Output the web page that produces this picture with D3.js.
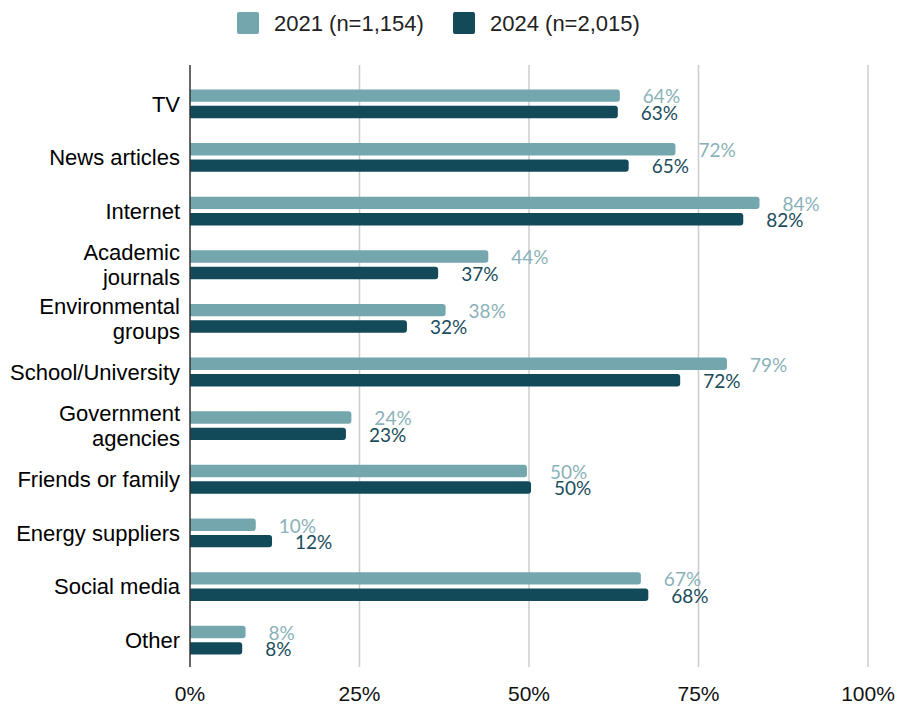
<!DOCTYPE html>
<html>
<head>
<meta charset="utf-8">
<script src="https://cdn.jsdelivr.net/npm/d3@7"></script>
<style>
  body { margin: 0; background: #fff; }
  svg { display: block; }
</style>
</head>
<body>
<svg id="vis"></svg>
<script>
// DATOS ------------------------------------------------------------------
const categories = [
  "TV",
  "News articles",
  "Internet",
  "Academic\njournals",
  "Environmental\ngroups",
  "School/University",
  "Government\nagencies",
  "Friends or family",
  "Energy suppliers",
  "Social media",
  "Other",
];
const seriesNames = ["2021 (n=1,154)", "2024 (n=2,015)"];
const values2021 = [63.4, 71.6, 84.0, 44.0, 37.7, 79.2, 23.8, 49.7, 9.7, 66.5, 8.2];
const values2024 = [63.1, 64.7, 81.6, 36.6, 32.0, 72.3, 23.0, 50.3, 12.1, 67.6, 7.7];
const labels2021 = ["64%", "72%", "84%", "44%", "38%", "79%", "24%", "50%", "10%", "67%", "8%"];
const labels2024 = ["63%", "65%", "82%", "37%", "32%", "72%", "23%", "50%", "12%", "68%", "8%"];
const xTicks = [0, 25, 50, 75, 100];

// CONSTANTES -------------------------------------------------------------
const WIDTH = 897;
const HEIGHT = 711;
const COLORS = ["#74a6ae", "#124a5a"];
const LABEL_COLORS = ["#8bb1b8", "#1a4c5c"];
const FONT = "'Liberation Sans', Arial, sans-serif";
const svg = d3.select("#vis").attr("width", WIDTH).attr("height", HEIGHT);

// ESCALAS ----------------------------------------------------------------
const escalaX = d3.scaleLinear().domain([0, 100]).range([190, 868]);
const escalaY = d3
  .scaleBand()
  .domain(categories)
  .range([77, 667])
  .paddingInner(0.463)
  .paddingOuter(0.2315);
const escalaSerie = d3
  .scaleBand()
  .domain([0, 1])
  .range([0, escalaY.bandwidth()])
  .paddingInner(0.244);

// GRILLA Y EJE -----------------------------------------------------------
svg
  .append("g")
  .selectAll("line")
  .data(xTicks.filter((t) => t > 0))
  .join("line")
  .attr("x1", (d) => escalaX(d))
  .attr("x2", (d) => escalaX(d))
  .attr("y1", 65)
  .attr("y2", 667)
  .attr("stroke", "#cccccc")
  .attr("stroke-width", 1.5);

svg
  .append("g")
  .selectAll("text")
  .data(xTicks)
  .join("text")
  .attr("x", (d) => escalaX(d))
  .attr("y", 701)
  .attr("text-anchor", "middle")
  .style("font-family", FONT)
  .style("font-size", "21px")
  .attr("fill", "#111")
  .text((d) => d + "%");

// BARRAS -----------------------------------------------------------------
function barraRedondeada(x0, x1, y, h, r) {
  r = Math.min(r, (x1 - x0) / 2, h / 2);
  return `M${x0},${y}H${x1 - r}A${r},${r} 0 0 1 ${x1},${y + r}V${y + h - r}A${r},${r} 0 0 1 ${x1 - r},${y + h}H${x0}Z`;
}

const filas = categories.map((c, i) => ({
  categoria: c,
  valores: [values2021[i], values2024[i]],
  etiquetas: [labels2021[i], labels2024[i]],
}));

const grupos = svg
  .append("g")
  .selectAll("g")
  .data(filas)
  .join("g")
  .attr("transform", (d) => `translate(0, ${escalaY(d.categoria)})`);

grupos
  .selectAll("path")
  .data((d) => d.valores.map((v, s) => ({ v, s })))
  .join("path")
  .attr("d", (d) =>
    barraRedondeada(escalaX(0), escalaX(d.v), escalaSerie(d.s), escalaSerie.bandwidth(), 3)
  )
  .attr("fill", (d) => COLORS[d.s]);

grupos
  .selectAll("text.valor")
  .data((d) => d.valores.map((v, s) => ({ v, s, t: d.etiquetas[s] })))
  .join("text")
  .attr("class", "valor")
  .attr("x", (d) => escalaX(d.v) + 23)
  .attr("y", (d) => escalaSerie(d.s) + escalaSerie.bandwidth() / 2 + 1)
  .attr("dy", "0.36em")
  .style("font-family", "Lato, sans-serif")
  .style("font-size", "19px")
  .style("font-weight", 400)
  .attr("fill", (d) => LABEL_COLORS[d.s])
  .text((d) => d.t);

// ETIQUETAS DE CATEGORIA ---------------------------------------------------
grupos.each(function (d) {
  const lineas = d.categoria.split("\n");
  const centro = escalaY.bandwidth() / 2;
  const alto = 25;
  d3.select(this)
    .append("text")
    .attr("text-anchor", "end")
    .style("font-family", FONT)
    .style("font-size", "22px")
    .attr("fill", "#000")
    .selectAll("tspan")
    .data(lineas)
    .join("tspan")
    .attr("x", 180)
    .attr("y", (l, i) => centro + (i - (lineas.length - 1) / 2) * alto)
    .attr("dy", "0.36em")
    .text((l) => l);
});

// EJE VERTICAL -------------------------------------------------------------
svg
  .append("line")
  .attr("x1", escalaX(0))
  .attr("x2", escalaX(0))
  .attr("y1", 65)
  .attr("y2", 667)
  .attr("stroke", "#333")
  .attr("stroke-width", 1.5);

// LEYENDA ------------------------------------------------------------------
const leyendaX = [237, 453];
const leyenda = svg
  .append("g")
  .selectAll("g")
  .data(seriesNames)
  .join("g")
  .attr("transform", (d, i) => `translate(${leyendaX[i]}, 12)`);
leyenda
  .append("rect")
  .attr("width", 22)
  .attr("height", 22)
  .attr("rx", 2)
  .attr("fill", (d, i) => COLORS[i]);
leyenda
  .append("text")
  .attr("x", 37)
  .attr("y", 11)
  .attr("dy", "0.36em")
  .style("font-family", FONT)
  .style("font-size", "22px")
  .attr("fill", "#222")
  .text((d) => d);
</script>
</body>
</html>
